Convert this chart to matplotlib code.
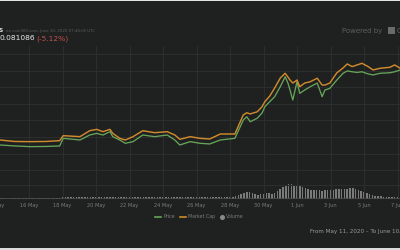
import matplotlib
matplotlib.use("Agg")
import matplotlib.pyplot as plt
import matplotlib.dates as mdates
import pandas as pd
from matplotlib.patches import Rectangle

# ---------------- data ----------------
times = ["2020-05-14 01:00", "2020-05-14 06:00", "2020-05-15 04:00", "2020-05-16 01:00",
         "2020-05-17 00:00", "2020-05-17 20:00", "2020-05-18 01:00", "2020-05-19 01:00",
         "2020-05-19 15:00", "2020-05-20 01:00", "2020-05-20 10:00", "2020-05-20 20:00",
         "2020-05-21 00:00", "2020-05-21 10:00", "2020-05-21 18:00", "2020-05-22 05:00",
         "2020-05-22 19:00", "2020-05-23 12:00", "2020-05-24 06:00", "2020-05-24 17:00",
         "2020-05-25 00:00", "2020-05-25 15:00", "2020-05-26 05:00", "2020-05-26 19:00",
         "2020-05-27 10:00", "2020-05-28 07:00", "2020-05-28 19:00", "2020-05-29 00:00",
         "2020-05-29 05:00", "2020-05-29 15:00", "2020-05-29 22:00", "2020-05-30 02:00",
         "2020-05-30 09:00", "2020-05-30 16:00", "2020-05-31 00:00", "2020-05-31 07:00",
         "2020-05-31 11:00", "2020-05-31 14:00", "2020-05-31 18:00", "2020-06-01 00:00",
         "2020-06-01 04:00", "2020-06-01 11:00", "2020-06-01 19:00", "2020-06-02 05:00",
         "2020-06-02 12:00", "2020-06-02 16:00", "2020-06-02 23:00", "2020-06-03 09:00",
         "2020-06-03 18:00", "2020-06-04 00:00", "2020-06-04 07:00", "2020-06-04 14:00",
         "2020-06-04 21:00", "2020-06-05 06:00", "2020-06-05 13:00", "2020-06-05 23:00",
         "2020-06-06 13:00", "2020-06-06 20:00", "2020-06-07 04:00", "2020-06-07 18:00"]

price = [0.0352, 0.0352, 0.0346, 0.0342,
         0.0343, 0.0346, 0.0392, 0.0382,
         0.0412, 0.0422, 0.0412, 0.0432,
         0.0402, 0.0382, 0.0362, 0.0372,
         0.0412, 0.0402, 0.0412, 0.0382,
         0.0352, 0.0372, 0.0362, 0.0358,
         0.0382, 0.0392, 0.0502, 0.0522,
         0.0492, 0.0513, 0.0545, 0.0583,
         0.0613, 0.0643, 0.0703, 0.0763,
         0.0725, 0.0683, 0.0623, 0.0733,
         0.0663, 0.0683, 0.0703, 0.0725,
         0.0643, 0.0683, 0.0693, 0.0743,
         0.0784, 0.0798, 0.0793, 0.0789,
         0.0793, 0.0780, 0.0774, 0.0784,
         0.0787, 0.0793, 0.0804, 0.0798]

market_cap = [382, 382, 373, 372,
              373, 378, 408, 402,
              438, 446, 432, 446,
              422, 392, 382, 402,
              438, 426, 432, 412,
              386, 402, 392, 388,
              418, 418, 533, 546,
              539, 552, 583, 613,
              647, 695, 755, 784,
              761, 743, 725, 743,
              703, 725, 733, 754,
              713, 713, 725, 786,
              816, 840, 824, 834,
              844, 824, 804, 814,
              820, 834, 814, 822]

vol_days = ["2020-05-14", "2020-05-15", "2020-05-16", "2020-05-17", "2020-05-18",
            "2020-05-19", "2020-05-20", "2020-05-21", "2020-05-22", "2020-05-23",
            "2020-05-24", "2020-05-25", "2020-05-26", "2020-05-27", "2020-05-28",
            "2020-05-29", "2020-05-30", "2020-05-31", "2020-06-01", "2020-06-02",
            "2020-06-03", "2020-06-04", "2020-06-05", "2020-06-06", "2020-06-07"]
# six 4-hourly readings per day
volume = [1, 1, 1, 1, 1, 1,
          1, 1, 1, 1, 1, 1,
          1, 1, 1, 1, 1, 1,
          1, 1, 1, 1, 1, 1.5,
          2, 2, 2, 2, 2, 2,
          2, 2, 2, 2, 2, 2,
          2, 2, 2, 2, 2, 2,
          2, 2, 2, 2, 2, 2,
          2, 2, 2, 2, 2, 2,
          2, 2, 2, 2, 2, 2,
          2, 2, 2, 2, 2, 2,
          2, 2, 2, 2, 2, 2,
          2, 2, 2, 2, 2, 2,
          2, 2, 2, 2, 2, 2,
          2, 2.5, 3, 4, 5.5, 6.5,
          7, 7, 6.5, 5, 4, 5,
          5.5, 6, 6, 5.5, 6.5, 8,
          10, 12, 14, 15, 15, 14,
          14, 13, 12, 11, 10, 9.5,
          9, 9, 9, 8.5, 9, 9,
          9, 9.5, 10, 10, 10, 10,
          10, 11, 11, 10, 9, 8,
          7, 6, 5, 4, 3.5, 3,
          3, 2.5, 2.5, 2, 2, 2,
          2, 2, 2, 2, 2, 2]

tick_days = ["2020-05-12", "2020-05-14", "2020-05-16", "2020-05-18", "2020-05-20",
             "2020-05-22", "2020-05-24", "2020-05-26", "2020-05-28", "2020-05-30",
             "2020-06-01", "2020-06-03", "2020-06-05", "2020-06-07", "2020-06-09"]
price_ticks = [0.02, 0.03, 0.04, 0.05, 0.06, 0.07, 0.08, 0.09]

# ---------------- style ----------------
BG = "#1f2020"
GRID = "#2c2e2e"
ORANGE = "#cf8a2c"
GREEN = "#67a55a"
VOLC = "#7a7a7a"

W, H = 400, 250
fig = plt.figure(figsize=(4, 2.5), dpi=100, facecolor=BG)

def fx(px):
    return px / W

def fy(py):
    return 1 - py / H

# axes geometry in pixel space (the view is a crop of a wider chart)
x_left_px = -54.75          # 11 May 00:00
px_per_day = 16.75
start = pd.Timestamp("2020-05-11 00:00")
end = pd.Timestamp("2020-06-10 12:00")
ndays = (end - start) / pd.Timedelta(days=1)
ax_top, ax_bot = 46, 199
pos = [fx(x_left_px), fy(ax_bot), fx(ndays * px_per_day), (ax_bot - ax_top) / H]

ax = fig.add_axes(pos)
ax.set_facecolor(BG)
ax.set_xlim(start, end)
# price axis: gridline at y=54 px is 0.09, 16.6 px per 0.01
p_top = 0.09 + (54 - ax_top) / 1660
p_bot = 0.09 - (ax_bot - 54) / 1660
ax.set_ylim(p_bot, p_top)
ax.set_yticks(price_ticks)
ax.set_xticks(pd.to_datetime(tick_days))
ax.xaxis.set_major_formatter(mdates.DateFormatter("%-d %b"))
ax.grid(True, color=GRID, linewidth=0.8)
ax.tick_params(axis="x", length=0, colors="#7c7c7c", labelsize=3.6, pad=3)
ax.tick_params(axis="y", length=0, labelleft=False)
for s in ax.spines.values():
    s.set_visible(False)
ax.axhline(p_bot, color="#4a4a4a", linewidth=1.2)

# volume axis
axv = ax.twinx()
axv.set_position(pos)
axv.set_ylim(0, ax_bot - ax_top)
axv.set_yticks([14])
axv.grid(True, axis="y", color=GRID, linewidth=0.8)
axv.tick_params(axis="y", length=0, labelright=False)
for s in axv.spines.values():
    s.set_visible(False)
vt = []
for d in vol_days:
    for h in range(0, 24, 4):
        vt.append(pd.Timestamp(d) + pd.Timedelta(hours=h))
axv.bar(vt, volume, width=pd.Timedelta(hours=2.2), color=VOLC, linewidth=0)

# market cap axis
axm = ax.twinx()
axm.set_position(pos)
m_top = 900 + (54 - ax_top) * 100 / 16.6
m_bot = 900 - (ax_bot - 54) * 100 / 16.6
axm.set_ylim(m_bot, m_top)
axm.tick_params(axis="y", length=0, labelright=False)
for s in axm.spines.values():
    s.set_visible(False)

t = pd.to_datetime(times)
axm.plot(t, market_cap, color=ORANGE, linewidth=1.05)
ax.plot(t, price, color=GREEN, linewidth=0.95)
ax.set_zorder(3)
ax.patch.set_visible(False)
axm.set_zorder(4)
axv.set_zorder(2)

# ---------------- texts ----------------
fig.text(fx(-1), fy(30.5), "S", color="#e6e6e6", fontsize=4.2, fontweight="bold", va="center")
fig.text(fx(6), fy(30.7), "on coin360.com, June 10, 2020 07:44:05 UTC", color="#5c5c5c",
         fontsize=2.8, va="center")
fig.text(fx(-0.5), fy(38.5), "0.081086", color="#e8e8e8", fontsize=5.4, va="center")
fig.text(fx(36.5), fy(38.5), "(-5.12%)", color="#c0504d", fontsize=5.4, va="center")
fig.text(fx(342), fy(31), "Powered by", color="#5e5e5e", fontsize=5.0, va="center")
fig.patches.append(Rectangle((fx(388), fy(34)), fx(7), 7 / H, transform=fig.transFigure,
                             facecolor="#6a6a6a", edgecolor="none"))
fig.text(fx(396.5), fy(31), "C", color="#6a6a6a", fontsize=5.0, va="center")

# legend
fig.add_artist(plt.Line2D([fx(155), fx(161)], [fy(216.5), fy(216.5)], color=GREEN,
                          linewidth=1.2, transform=fig.transFigure))
fig.text(fx(163), fy(216.5), "Price", color="#7c7c7c", fontsize=3.4, va="center")
fig.add_artist(plt.Line2D([fx(180), fx(186)], [fy(216.5), fy(216.5)], color=ORANGE,
                          linewidth=1.2, transform=fig.transFigure))
fig.text(fx(188), fy(216.5), "Market Cap", color="#7c7c7c", fontsize=3.4, va="center")
fig.add_artist(plt.Line2D([fx(222)], [fy(216.5)], marker="o", markersize=2.6,
                          color="#8a8a8a", linestyle="none", transform=fig.transFigure))
fig.text(fx(225.5), fy(216.5), "Volume", color="#7c7c7c", fontsize=3.4, va="center")

fig.text(fx(310.5), fy(231), "From May 11, 2020 \u2013 To June 10, 2020", color="#9a9a9a",
         fontsize=4.1, va="center")

# light page strips at top and bottom edges
fig.patches.append(Rectangle((0, fy(1.3)), 1, 1.3 / H, transform=fig.transFigure,
                             facecolor="#e4e4e4", edgecolor="none"))
fig.patches.append(Rectangle((0, 0), 1, 2.2 / H, transform=fig.transFigure,
                             facecolor="#dcdcdc", edgecolor="none"))

fig.savefig("out.png", dpi=100, facecolor=BG)
